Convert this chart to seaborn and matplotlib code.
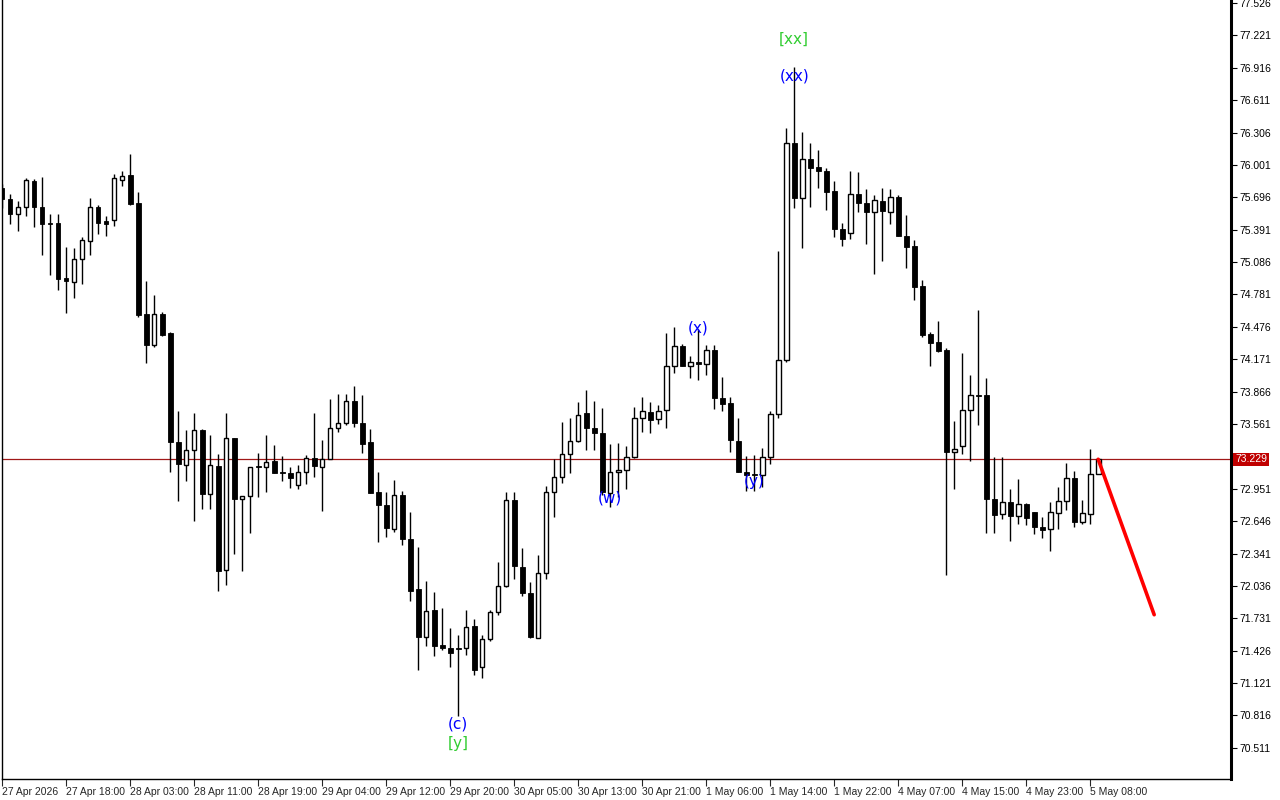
import matplotlib
matplotlib.use("Agg")
import matplotlib.pyplot as plt
import matplotlib.transforms as mtransforms
import seaborn as sns

# hourly candles, index 0 = 27 Apr 10:00
time_labels = ["27 Apr 2026", "27 Apr 18:00", "28 Apr 03:00", "28 Apr 11:00", "28 Apr 19:00",
               "29 Apr 04:00", "29 Apr 12:00", "29 Apr 20:00", "30 Apr 05:00", "30 Apr 13:00",
               "30 Apr 21:00", "1 May 06:00", "1 May 14:00", "1 May 22:00", "4 May 07:00",
               "4 May 15:00", "4 May 23:00", "5 May 08:00"]

opens = [75.788, 75.684, 75.539, 75.609, 75.854, 75.609, 75.458, 75.458, 74.933, 74.902,
         75.119, 75.288, 75.602, 75.470, 75.486, 75.863, 75.904, 75.640, 74.593, 74.308,
         74.593, 74.414, 73.396, 73.176, 73.318, 73.509, 72.901, 73.167, 72.186, 73.431,
         72.856, 72.880, 73.157, 73.154, 73.217, 73.113, 73.101, 72.988, 73.106, 73.242,
         73.154, 73.229, 73.525, 73.569, 73.780, 73.572, 73.387, 72.924, 72.802, 72.569,
         72.896, 72.481, 72.010, 71.551, 71.812, 71.479, 71.454, 71.454, 71.451, 71.661,
         71.277, 71.536, 71.790, 72.032, 72.849, 72.217, 71.972, 71.545, 72.158, 72.922,
         73.063, 73.280, 73.399, 73.660, 73.528, 73.478, 72.908, 73.110, 73.129, 73.252,
         73.619, 73.676, 73.610, 73.695, 74.110, 74.298, 74.110, 74.141, 74.129, 74.261,
         73.808, 73.761, 73.402, 73.110, 73.091, 73.082, 73.252, 73.653, 74.166, 76.212,
         75.694, 76.061, 75.979, 75.948, 75.753, 75.401, 75.360, 75.731, 75.647, 75.562,
         75.665, 75.558, 75.697, 75.335, 75.241, 74.857, 74.405, 74.329, 74.254, 73.295,
         73.352, 73.695, 73.836, 73.830, 72.859, 72.714, 72.830, 72.692, 72.811, 72.729,
         72.595, 72.569, 72.724, 72.837, 73.054, 72.635, 72.714, 73.088]

highs = [75.819, 75.731, 75.665, 75.882, 75.866, 75.885, 75.536, 75.536, 75.225, 75.216,
         75.326, 75.687, 75.621, 75.517, 75.913, 75.942, 76.102, 75.744, 74.905, 74.773,
         74.619, 74.430, 73.688, 73.500, 73.660, 73.518, 73.453, 73.280, 73.660, 73.431,
         72.884, 73.157, 73.292, 73.462, 73.368, 73.264, 73.157, 73.176, 73.271, 73.669,
         73.415, 73.792, 73.839, 73.839, 73.915, 73.830, 73.516, 73.113, 72.924, 73.038,
         72.934, 72.736, 72.406, 72.085, 71.982, 71.831, 71.642, 71.576, 71.812, 71.727,
         71.576, 71.812, 72.264, 72.924, 72.924, 72.396, 72.076, 72.324, 72.978, 73.233,
         73.584, 73.622, 73.764, 73.877, 73.782, 73.716, 73.374, 73.384, 73.355, 73.723,
         73.811, 73.764, 73.742, 74.421, 74.471, 74.311, 74.204, 74.459, 74.308, 74.308,
         74.006, 73.811, 73.613, 73.264, 73.273, 73.339, 73.679, 75.187, 76.344, 76.922,
         76.309, 76.206, 76.140, 75.970, 75.847, 75.451, 75.948, 75.932, 75.772, 75.722,
         75.781, 75.772, 75.715, 75.527, 75.291, 74.914, 74.424, 74.527, 74.279, 73.594,
         74.226, 74.018, 74.631, 73.999, 73.255, 73.255, 72.953, 73.047, 72.821, 72.736,
         72.682, 72.830, 72.972, 73.198, 73.123, 72.849, 73.330, 73.229]

lows = [75.593, 75.445, 75.379, 75.520, 75.417, 75.153, 74.964, 74.823, 74.606, 74.747,
        74.879, 75.153, 75.348, 75.329, 75.426, 75.803, 75.626, 74.568, 74.134, 74.285,
        74.386, 73.106, 72.833, 73.028, 72.644, 72.758, 72.758, 71.984, 72.041, 72.333,
        72.173, 72.538, 72.871, 72.918, 73.097, 73.028, 72.956, 72.946, 72.993, 73.066,
        72.739, 73.229, 73.490, 73.556, 73.531, 73.286, 72.909, 72.446, 72.494, 72.541,
        72.420, 71.890, 71.249, 71.475, 71.381, 71.432, 71.277, 70.815, 71.385, 71.202,
        71.168, 71.517, 71.762, 72.026, 72.098, 71.941, 71.545, 71.545, 72.098, 72.682,
        73.003, 73.097, 73.389, 73.318, 73.314, 72.896, 72.776, 72.871, 72.950, 73.245,
        73.487, 73.478, 73.563, 73.525, 74.044, 74.103, 73.997, 73.971, 74.025, 73.704,
        73.688, 73.299, 73.106, 72.934, 72.934, 72.965, 73.188, 73.613, 74.141, 75.599,
        75.218, 75.605, 75.784, 75.577, 75.319, 75.237, 75.303, 75.555, 75.256, 74.973,
        75.093, 75.445, 75.329, 75.030, 74.725, 74.379, 74.103, 74.235, 72.142, 72.953,
        73.283, 73.210, 73.556, 72.531, 72.531, 72.667, 72.460, 72.616, 72.607, 72.522,
        72.484, 72.362, 72.569, 72.748, 72.588, 72.616, 72.616, 73.088]

closes = [75.681, 75.539, 75.609, 75.863, 75.605, 75.445, 75.449, 74.926, 74.911, 75.112,
          75.291, 75.602, 75.454, 75.445, 75.882, 75.901, 75.633, 74.584, 74.304, 74.593,
          74.395, 73.389, 73.182, 73.318, 73.509, 72.899, 73.176, 72.173, 73.431, 72.856,
          72.884, 73.157, 73.155, 73.205, 73.104, 73.097, 73.057, 73.110, 73.242, 73.163,
          73.233, 73.525, 73.572, 73.780, 73.569, 73.370, 72.915, 72.795, 72.578, 72.896,
          72.475, 71.991, 71.551, 71.802, 71.475, 71.447, 71.409, 71.441, 71.649, 71.249,
          71.538, 71.793, 72.035, 72.849, 72.220, 71.966, 71.551, 72.158, 72.922, 73.063,
          73.280, 73.402, 73.650, 73.521, 73.474, 72.918, 73.110, 73.129, 73.252, 73.619,
          73.685, 73.600, 73.685, 74.110, 74.298, 74.110, 74.141, 74.129, 74.261, 73.804,
          73.751, 73.412, 73.106, 73.082, 73.082, 73.252, 73.653, 74.166, 76.212, 75.694,
          76.061, 75.973, 75.944, 75.747, 75.398, 75.303, 75.731, 75.643, 75.558, 75.675,
          75.567, 75.697, 75.329, 75.228, 74.851, 74.395, 74.323, 74.247, 73.295, 73.327,
          73.695, 73.836, 73.823, 72.859, 72.701, 72.830, 72.692, 72.811, 72.673, 72.588,
          72.563, 72.736, 72.837, 73.054, 72.635, 72.727, 73.094, 73.229]

price_ticks = [70.511, 70.816, 71.121, 71.426, 71.731, 72.036, 72.341, 72.646, 72.951, 73.256,
               73.561, 73.866, 74.171, 74.476, 74.781, 75.086, 75.391, 75.696, 76.001, 76.306,
               76.611, 76.916, 77.221, 77.526]

last_price = 73.229

# forecast line
forecast_x = [137, 144]
forecast_y = [73.229, 71.765]

# wave marks
wave_text = ["[xx]", "(xx)", "(x)", "(w)", "(y)", "(c)", "[y]"]
wave_x = [99, 99, 87, 76, 94, 57, 57]
wave_y = [77.187, 76.838, 74.462, 72.868, 73.019, 70.737, 70.549]
wave_col = ["#32cd32", "#0000ff", "#0000ff", "#0000ff", "#0000ff", "#0000ff", "#32cd32"]

sns.set_style("white")
plt.rcParams['font.family'] = ['DejaVu Sans']

fig = plt.figure(figsize=(12.8, 8), dpi=100)
ax = fig.add_axes([2 / 1280, 21 / 800, 1229 / 1280, 779 / 800])

idx = list(range(len(opens)))
ax.vlines(idx, lows, highs, color="black", lw=1.0, zorder=2)

for i in idx:
    o, c = opens[i], closes[i]
    h = max(abs(c - o), 0.008)
    if c >= o:
        ax.bar(i, h, bottom=min(o, c), width=0.6, facecolor="white", edgecolor="black",
               linewidth=1.0, zorder=3)
    else:
        ax.bar(i, h, bottom=min(o, c), width=0.62, facecolor="black", edgecolor="black",
               linewidth=0.6, zorder=3)

ax.axhline(last_price, color="#a01818", lw=0.9, zorder=1)

sns.lineplot(x=forecast_x, y=forecast_y, color="#ff0000", lw=2.6, ax=ax, zorder=4)

for t, x, y, c in zip(wave_text, wave_x, wave_y, wave_col):
    ax.text(x, y, t, color=c, fontsize=11, ha="center", va="center", zorder=5)

ax.set_xlim(0, 153.6)
ax.set_ylim(70.218, 77.554)

# the live price box hides the nearest grid label
ax.yaxis.tick_right()
ax.set_yticks(price_ticks)
ax.set_yticklabels(["" if abs(p - last_price) < 0.05 else f"{p:.3f}" for p in price_ticks],
                   family="Liberation Sans")
ax.tick_params(axis="y", direction="out", length=4, width=0.8, labelsize=7.5, pad=2,
               colors="black", right=True, left=False)

ax.set_xticks(list(range(0, len(opens), 8)))
ax.set_xticklabels(time_labels, family="Liberation Sans")
ax.tick_params(axis="x", direction="out", length=5, width=0.8, labelsize=7.5, pad=1,
               bottom=True)
for lab in ax.get_xticklabels():
    lab.set_horizontalalignment("left")

ax.spines["top"].set_visible(False)
ax.spines["left"].set_linewidth(1.0)
ax.spines["bottom"].set_linewidth(1.0)
ax.spines["right"].set_linewidth(2.2)
for s in ax.spines.values():
    s.set_color("black")

trans = mtransforms.blended_transform_factory(ax.transAxes, ax.transData)
ax.text(1.0 + 4 / 1229, last_price, f"{last_price:.3f}", transform=trans, color="white",
        fontsize=7.5, family="Liberation Sans", ha="left", va="center",
        bbox=dict(facecolor="#c00000", edgecolor="none", pad=1.2))

fig.savefig("out.png", dpi=100, facecolor="white")
